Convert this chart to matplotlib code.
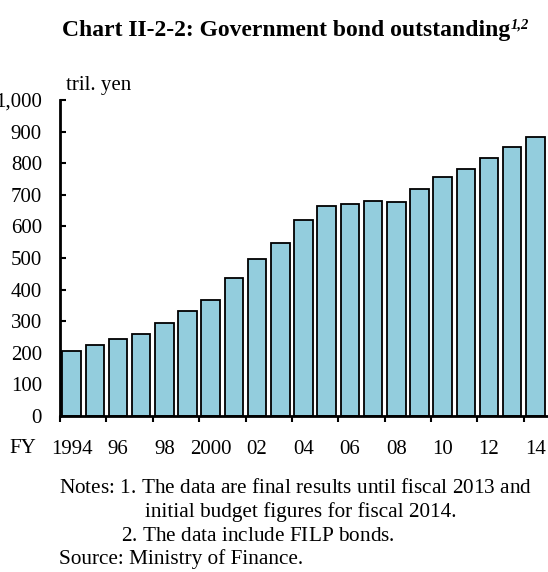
import matplotlib
matplotlib.use("Agg")
import matplotlib.pyplot as plt
import numpy as np

# Government bond outstanding, tril. yen
years = list(range(1994, 2015))
outstanding = [207, 225, 244, 259, 295, 332, 367, 437, 497, 549,
               621, 666, 671, 681, 678, 717, 755, 781, 815, 850, 884]
tick_labels = ["1994", "96", "98", "2000", "02", "04", "06", "08", "10", "12", "14"]
y_ticks = [0, 100, 200, 300, 400, 500, 600, 700, 800, 900, 1000]

plt.rcParams['font.family'] = ['Liberation Serif', 'DejaVu Serif']
plt.rcParams['mathtext.fontset'] = 'custom'
plt.rcParams['mathtext.rm'] = 'Liberation Serif'
plt.rcParams['mathtext.it'] = 'Liberation Serif:italic'

W, H = 548, 572
fs = 15
nfs = 15.3
fig = plt.figure(figsize=(W / 100, H / 100), dpi=100)
ax = fig.add_axes([60 / W, 1 - 416 / H, 487 / W, 316 / H])

x = np.arange(len(years))
ax.bar(x, outstanding, width=0.8, color='#93CDDD', edgecolor='black', linewidth=1.3, zorder=2)

ax.set_xlim(-0.5, len(years) - 0.5)
ax.set_ylim(0, 1000)

ax.spines['top'].set_visible(False)
ax.spines['right'].set_visible(False)
ax.spines['left'].set_linewidth(2)
ax.spines['bottom'].set_linewidth(2)
ax.spines['left'].set_zorder(3)
ax.spines['bottom'].set_zorder(3)

ax.set_yticks(y_ticks)
ax.set_yticklabels(["{:,}".format(v) for v in y_ticks])
ax.tick_params(axis='y', direction='in', length=4, width=1.5, pad=13, labelsize=fs)

# major ticks between each pair of years, labels under every second bar
ax.set_xticks(np.arange(-0.5, len(years) - 1, 2))
ax.set_xticklabels([])
ax.tick_params(axis='x', which='major', direction='out', length=4, width=1.5)
ax.set_xticks(x[::2], minor=True)
ax.set_xticklabels(tick_labels, minor=True)
ax.tick_params(axis='x', which='minor', length=0, pad=17, labelsize=fs)

fig.text(23 / W, 1 - 453 / H, "FY", ha='center', va='baseline', fontsize=fs)
fig.text(66 / W, 1 - 90 / H, "tril. yen", ha='left', va='baseline', fontsize=fs)

# title with italic superscript
fig.text(510 / W, 1 - 36 / H, "Chart II-2-2: Government bond outstanding",
         ha='right', va='baseline', fontsize=17, fontweight='bold')
fig.text(511 / W, 1 - 19 / H, "1,2", ha='left', va='top', fontsize=10.5,
         fontweight='bold', style='italic')

fig.text(59 / W, 1 - 492.7 / H,
         r"Notes: $\mathit{1}$. The data are final results until fiscal 2013 and",
         ha='left', va='baseline', fontsize=nfs)
fig.text(145 / W, 1 - 516.7 / H, "initial budget figures for fiscal 2014.",
         ha='left', va='baseline', fontsize=nfs)
fig.text(121 / W, 1 - 540.7 / H, r"$\mathit{2}$. The data include FILP bonds.",
         ha='left', va='baseline', fontsize=nfs)
fig.text(59 / W, 1 - 564.3 / H, "Source: Ministry of Finance.",
         ha='left', va='baseline', fontsize=nfs)

fig.savefig("out.png", dpi=100)
